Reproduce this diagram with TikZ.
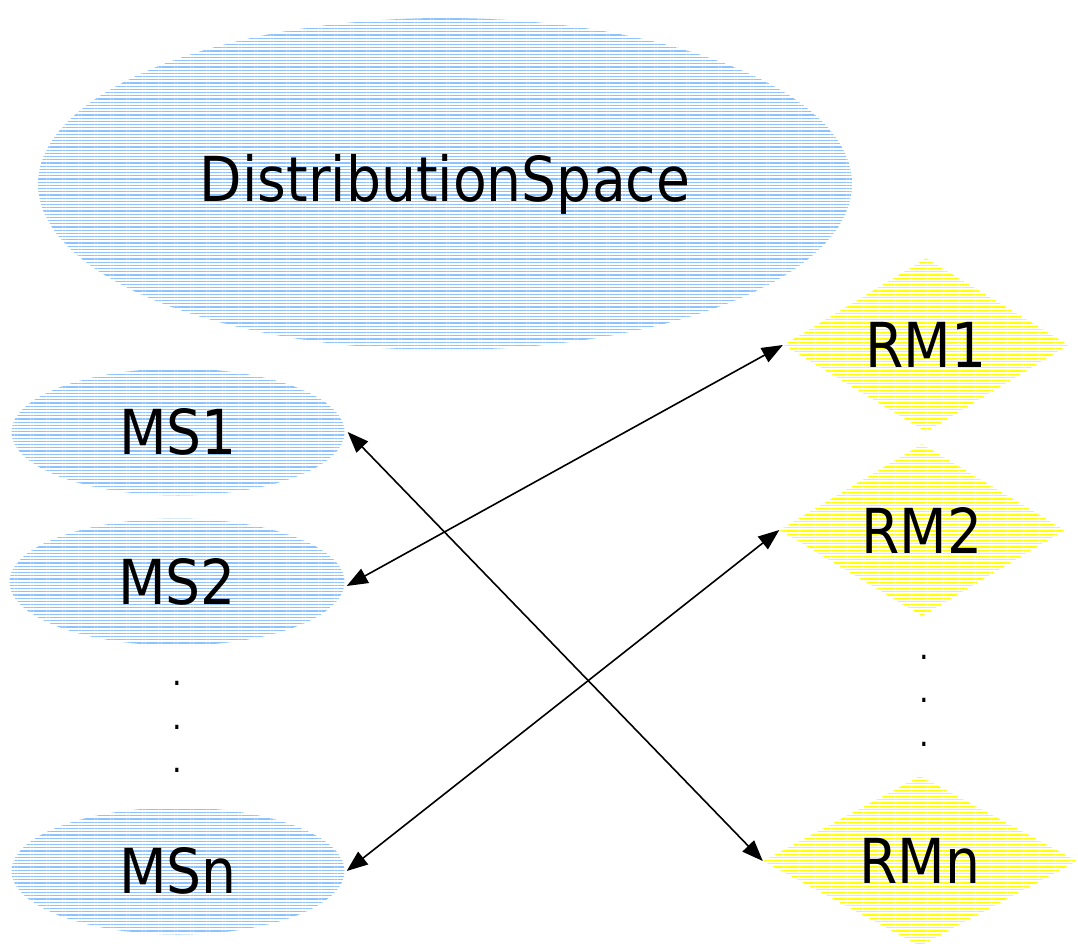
\documentclass[tikz,border=0pt]{standalone}
\usepackage{fontspec}
\setmainfont{DejaVu Sans}[FakeStretch=0.89]
\usetikzlibrary{shapes.geometric,patterns.meta,arrows.meta}
\definecolor{msblue}{RGB}{140,195,255}
\definecolor{rmyellow}{RGB}{255,255,0}
\begin{document}
\begin{tikzpicture}[x=1pt,y=-1pt,
  lbl/.style={font=\fontsize{62}{70}\selectfont, text=black},
  msnode/.style={ellipse, lbl, inner sep=0pt,
    pattern={Lines[angle=0,distance=3.2pt,line width=1.1pt]}, pattern color=msblue},
  rmnode/.style={diamond, lbl, inner sep=0pt,
    pattern={Lines[angle=0,distance=3.2pt,line width=1.3pt]}, pattern color=rmyellow},
  dotlbl/.style={font=\fontsize{34}{38}\selectfont, inner sep=0pt},
  link/.style={draw=black, line width=1.6pt, {Triangle[length=21pt,width=16pt]}-{Triangle[length=21pt,width=16pt]}}]
\useasboundingbox (0,0) rectangle (1078,947);
\node[msnode, minimum width=814pt, minimum height=332pt] (DS) at (445,184) {DistributionSpace};
\node[msnode, minimum width=333pt, minimum height=127pt] (MS1) at (178,432) {MS1};
\node[msnode, minimum width=335pt, minimum height=127pt] (MS2) at (177,582) {MS2};
\node[msnode, minimum width=333pt, minimum height=127pt] (MSn) at (178,871) {MSn};
\node[rmnode, minimum width=285pt, minimum height=174pt] (RM1) at (926,345) {RM1};
\node[rmnode, minimum width=285pt, minimum height=172pt] (RM2) at (922,530) {RM2};
\node[rmnode, minimum width=314pt, minimum height=170pt] (RMn) at (920,861) {RMn};
\node[dotlbl] (ld1) at (177,683) {.};
\node[dotlbl] (ld2) at (177,727) {.};
\node[dotlbl] (ld3) at (177,770) {.};
\node[dotlbl] (rd1) at (924,657) {.};
\node[dotlbl] (rd2) at (924,700) {.};
\node[dotlbl] (rd3) at (924,744) {.};
\draw[link] ([xshift=3pt]MS1.east) -- (RMn.west);
\draw[link] ([xshift=2pt,yshift=-4pt]MS2.east) -- (RM1.west);
\draw[link] ([xshift=2pt]MSn.east) -- (RM2.west);
\end{tikzpicture}
\end{document}
